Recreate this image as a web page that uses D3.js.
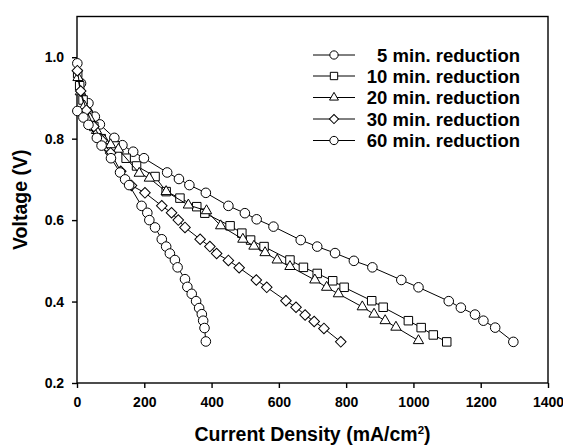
<!DOCTYPE html>
<html><head><meta charset="utf-8">
<script src="https://cdn.jsdelivr.net/npm/d3@7"></script>
<style>html,body{margin:0;padding:0;background:#fff}</style>
</head><body><svg id="c" width="563" height="446"></svg>
<script>
// Data (current density mA/cm2, voltage V)
const seriesNames = ["5 min. reduction","10 min. reduction","20 min. reduction","30 min. reduction","60 min. reduction"];
const seriesShapes = ["circle","square","triangle","diamond","circle"];
const s5x = [1,12,34,53,68,111,135,167,199,268,303,334,383,450,499,534,584,665,714,767,823,878,964,1015,1105,1141,1183,1208,1243,1297];
const s5y = [0.985,0.936,0.887,0.854,0.835,0.802,0.784,0.768,0.752,0.717,0.701,0.686,0.667,0.635,0.617,0.602,0.584,0.551,0.535,0.519,0.500,0.484,0.453,0.435,0.401,0.385,0.368,0.353,0.336,0.301];
const s10x = [2,8,18,32,50,72,95,113,146,177,232,265,306,356,380,455,490,516,556,633,673,714,760,794,876,910,985,1023,1059,1099];
const s10y = [0.960,0.930,0.895,0.860,0.830,0.800,0.780,0.782,0.752,0.733,0.707,0.670,0.654,0.633,0.617,0.586,0.568,0.551,0.535,0.502,0.484,0.469,0.451,0.435,0.402,0.386,0.353,0.336,0.318,0.301];
const s20x = [3,10,22,38,58,82,100,123,185,215,265,331,385,427,493,526,559,595,633,707,742,777,848,883,916,948,1015];
const s20y = [0.950,0.915,0.880,0.850,0.820,0.795,0.785,0.774,0.715,0.703,0.670,0.637,0.623,0.586,0.553,0.536,0.520,0.502,0.486,0.453,0.435,0.419,0.387,0.369,0.353,0.337,0.304];
const s30x = [1,11,28,50,75,100,130,162,202,252,281,301,321,366,395,415,450,482,533,564,621,651,678,705,734,784];
const s30y = [0.967,0.917,0.870,0.830,0.795,0.765,0.720,0.685,0.667,0.635,0.618,0.600,0.582,0.553,0.535,0.518,0.501,0.483,0.453,0.435,0.402,0.386,0.367,0.351,0.334,0.301];
const s60x = [1,19,34,59,73,101,128,143,155,192,209,215,232,252,265,276,291,299,321,328,341,354,363,371,375,379,383];
const s60y = [0.868,0.852,0.834,0.802,0.783,0.752,0.717,0.700,0.686,0.635,0.618,0.600,0.582,0.553,0.535,0.518,0.502,0.484,0.455,0.436,0.419,0.401,0.384,0.369,0.353,0.335,0.302];
const xTicks = [0,200,400,600,800,1000,1200,1400];
const yTicks = [0.2,0.4,0.6,0.8,1.0];
const xLabel = "Current Density (mA/cm";
const yLabel = "Voltage (V)";

const allX = [s5x,s10x,s20x,s30x,s60x];
const allY = [s5y,s10y,s20y,s30y,s60y];

const svg = d3.select("#c");
const font = "'Liberation Sans', Arial, sans-serif";
const L = 77, R = 548, T = 16.5, B = 383;
const x = d3.scaleLinear().domain([0,1400]).range([L,R]);
const y = d3.scaleLinear().domain([0.2,1.1]).range([B,T]);

// frame
svg.append("rect").attr("x",L).attr("y",T).attr("width",R-L).attr("height",B-T)
  .attr("fill","none").attr("stroke","#000").attr("stroke-width",1.4);

const xa = svg.append("g").attr("transform",`translate(0,${B})`)
  .call(d3.axisBottom(x).tickValues(xTicks).tickSize(5).tickSizeOuter(0).tickFormat(d3.format("d")));
const ya = svg.append("g").attr("transform",`translate(${L},0)`)
  .call(d3.axisLeft(y).tickValues(yTicks).tickSize(5).tickSizeOuter(0).tickFormat(d3.format(".1f")));
[xa,ya].forEach(a=>{
  a.select(".domain").remove();
  a.selectAll("line").attr("stroke","#000").attr("stroke-width",1.4);
  a.selectAll("text").attr("font-family",font).attr("font-weight","bold").attr("font-size",14).attr("fill","#000");
});
xa.selectAll("text").attr("dy","1.15em");
ya.selectAll("text").attr("dx","-0.35em");

// axis titles
const xt = svg.append("text").attr("x",(L+R)/2).attr("y",441).attr("text-anchor","middle")
  .attr("font-family",font).attr("font-weight","bold").attr("font-size",19.5).text(xLabel);
xt.append("tspan").attr("font-size",11.5).attr("dy",-7.5).text("2");
xt.append("tspan").attr("dy",7.5).text(")");
svg.append("text").attr("transform",`translate(27,${(T+B)/2}) rotate(-90)`).attr("text-anchor","middle")
  .attr("font-family",font).attr("font-weight","bold").attr("font-size",19.5).text(yLabel);

function symPath(shape, scale){
  const k = scale||1;
  if(shape==="circle") return d3.symbol(d3.symbolCircle, 72*k)();
  if(shape==="square") return d3.symbol(d3.symbolSquare, 72*k)();
  if(shape==="triangle") return d3.symbol(d3.symbolTriangle, 46*k)();
  if(shape==="diamond") return d3.symbol(d3.symbolSquare, 56*k)();
}
function symRot(shape){ return shape==="diamond" ? " rotate(45)" : ""; }

const line = d3.line().x(d=>x(d[0])).y(d=>y(d[1]));
allX.forEach((xs,i)=>{
  const pts = xs.map((v,j)=>[v, allY[i][j]]);
  const g = svg.append("g");
  g.append("path").attr("d",line(pts)).attr("fill","none").attr("stroke","#000").attr("stroke-width",1);
  g.selectAll("path.m").data(pts).join("path").attr("class","m")
    .attr("d",symPath(seriesShapes[i]))
    .attr("transform",d=>`translate(${x(d[0])},${y(d[1])})${symRot(seriesShapes[i])}`)
    .attr("fill","#fff").attr("stroke","#000").attr("stroke-width",1);
});

// legend
const legY = [55,76,97.5,119,140.5];
seriesNames.forEach((n,i)=>{
  const g = svg.append("g").attr("transform",`translate(0,${legY[i]})`);
  g.append("line").attr("x1",313).attr("x2",355).attr("y1",0).attr("y2",0).attr("stroke","#000").attr("stroke-width",1);
  g.append("path").attr("d",symPath(seriesShapes[i],0.75))
    .attr("transform",`translate(334,0)${symRot(seriesShapes[i])}`)
    .attr("fill","#fff").attr("stroke","#000").attr("stroke-width",1);
  g.append("text").attr("x",520).attr("y",6.5).attr("text-anchor","end")
    .attr("font-family",font).attr("font-weight","bold").attr("font-size",18.5).text(n);
});
</script></body></html>
